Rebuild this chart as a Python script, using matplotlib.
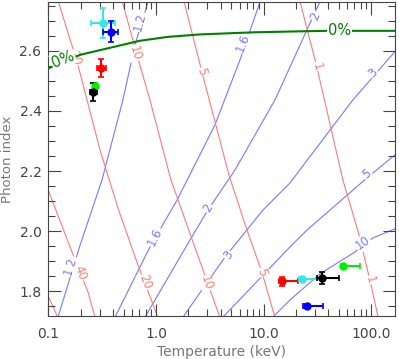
import numpy as np
import matplotlib
matplotlib.use("Agg")
import matplotlib.pyplot as plt

# contour lines (temperature in keV, photon index)
blue_12_T = [0.1228, 0.197, 0.315, 0.493, 0.638, 0.843]
blue_12_G = [1.713, 1.953, 2.17, 2.437, 2.62, 2.763]
blue_16_T = [0.416, 0.879, 1.57, 3.53, 6.04, 9.27]
blue_16_G = [1.713, 1.947, 2.103, 2.353, 2.57, 2.763]
blue_2_T = [0.790, 2.07, 3.04, 5.42, 12.8, 25.3, 33.4]
blue_2_G = [1.713, 1.97, 2.07, 2.203, 2.437, 2.67, 2.763]
blue_3_T = [1.78, 4.38, 9.88, 17.6, 67.8, 166]
blue_3_G = [1.713, 1.913, 2.07, 2.16, 2.437, 2.597]
blue_5_T = [4.19, 17.6, 25.3, 91.6, 166]
blue_5_G = [1.713, 1.947, 2.003, 2.177, 2.253]
blue_10_T = [12.2, 17.6, 33.4, 70.8, 104, 174]
blue_10_G = [1.713, 1.77, 1.857, 1.93, 1.977, 2.01]

red_80_T = [0.097, 0.1255]
red_80_G = [1.793, 1.703]
red_40_T = [0.097, 0.1013, 0.1657, 0.2333, 0.271]
red_40_G = [2.147, 2.13, 1.93, 1.797, 1.713]
red_20_T = [0.120, 0.1884, 0.302, 0.443, 0.680, 1.066]
red_20_G = [2.78, 2.553, 2.27, 2.077, 1.887, 1.703]
red_10_T = [0.473, 0.666, 0.879, 1.379, 2.676, 4.02]
red_10_G = [2.78, 2.587, 2.437, 2.17, 1.88, 1.703]
red_5_T = [1.78, 2.676, 4.77, 7.02, 9.67, 13.0]
red_5_G = [2.78, 2.53, 2.187, 2.003, 1.863, 1.703]
red_1_T = [21.3, 31.3, 54.7, 76.0, 97.6, 118]
red_1_G = [2.78, 2.547, 2.17, 1.997, 1.837, 1.703]

green_T = [0.095, 0.1, 0.197, 0.711, 1.3, 2.56, 8.0, 20.0, 38.8, 174]
green_G = [2.539, 2.542, 2.587, 2.634, 2.647, 2.655, 2.662, 2.665, 2.667, 2.667]

# contour labels: text, temperature, index, angle
blue_labels = ["1.2", "1.2", "1.6", "1.6", "2", "2", "3", "3", "5", "10"]
blue_label_T = [0.159, 0.71, 0.978, 6.44, 3.04, 30.0, 4.67, 104, 91.6, 84]
blue_label_G = [1.883, 2.697, 1.98, 2.627, 2.077, 2.717, 1.92, 2.527, 2.19, 1.96]
blue_label_rot = [73, 75, 63, 69, 60, 68, 55, 49, 40, 35]
red_labels = ["40", "20", "20", "10", "10", "5", "5", "1", "1"]
red_label_T = [0.197, 0.1767, 0.790, 0.638, 2.98, 2.66, 9.67, 31.2, 97.6]
red_label_G = [1.86, 2.577, 1.83, 2.593, 1.827, 2.53, 1.863, 2.548, 1.837]
red_label_rot = [-70, -71, -69, -74, -70, -73, -70, -76, -75]

# measured points
pt_colors = ["#33e8e8", "#0000ff", "#ff0000", "#00ee00", "#000000",
             "#ff0000", "#33e8e8", "#000000", "#00ee00", "#0000ff"]
pt_T = [0.320, 0.379, 0.306, 0.271, 0.261, 14.9, 22.9, 35.1, 55.1, 25.2]
pt_T_lo = [0.247, 0.324, 0.281, 0.262, 0.2435, 13.9, 21.3, 31.3, 52.0, 23.3]
pt_T_hi = [0.416, 0.447, 0.343, 0.282, 0.281, 20.9, 34.9, 50.1, 78.7, 35.9]
pt_G = [2.694, 2.664, 2.544, 2.483, 2.464, 1.833, 1.84, 1.842, 1.883, 1.751]
pt_G_err = [0.05, 0.035, 0.03, 0.01, 0.03, 0.015, 0.005, 0.02, 0.005, 0.005]

fig = plt.figure(figsize=(3.99, 3.59), dpi=100)
ax = fig.add_axes([0.1213, 0.1198, 0.8687, 0.8746])
ax.set_xscale("log")
ax.set_xlim(0.1, 167)
ax.set_ylim(1.717, 2.763)

blue_c = "#7878ff"
red_c = "#ff7a7a"
for T, G in [(blue_12_T, blue_12_G), (blue_16_T, blue_16_G), (blue_2_T, blue_2_G),
             (blue_3_T, blue_3_G), (blue_5_T, blue_5_G), (blue_10_T, blue_10_G)]:
    ax.plot(T, G, color=blue_c, lw=0.8, zorder=1)
for T, G in [(red_80_T, red_80_G), (red_40_T, red_40_G), (red_20_T, red_20_G),
             (red_10_T, red_10_G), (red_5_T, red_5_G), (red_1_T, red_1_G)]:
    ax.plot(T, G, color=red_c, lw=0.8, zorder=1)

box = dict(facecolor="white", edgecolor="none", pad=0.6)
for s, t, g, r in zip(blue_labels, blue_label_T, blue_label_G, blue_label_rot):
    ax.text(t, g, s, color=blue_c, fontsize=8.5, rotation=r, ha="center", va="center",
            rotation_mode="anchor", bbox=box, zorder=2)
for s, t, g, r in zip(red_labels, red_label_T, red_label_G, red_label_rot):
    ax.text(t, g, s, color=red_c, fontsize=8.5, rotation=r, ha="center", va="center",
            rotation_mode="anchor", bbox=box, zorder=2)

ax.plot(green_T, green_G, color="#008000", lw=1.5, zorder=3)
ax.text(0.1367, 2.573, "0%", color="#008000", fontsize=10.5, rotation=22,
        ha="center", va="center", rotation_mode="anchor", bbox=box, zorder=4)
ax.text(51.3, 2.667, "0%", color="#008000", fontsize=10.5, ha="center", va="center",
        bbox=box, zorder=4)

for c, t, lo, hi, g, ge in zip(pt_colors, pt_T, pt_T_lo, pt_T_hi, pt_G, pt_G_err):
    ax.errorbar([t], [g], xerr=[[t - lo], [hi - t]], yerr=[[ge], [ge]], fmt="o",
                color=c, ms=5, elinewidth=1.5, capsize=2, capthick=1.2, zorder=5)

ax.set_xticks([0.1, 1, 10, 100])
ax.set_xticklabels(["0.1", "1.0", "10.0", "100.0"])
ax.set_yticks([1.8, 2.0, 2.2, 2.4, 2.6])
ax.set_yticklabels(["1.8", "2.0", "2.2", "2.4", "2.6"])
ax.set_yticks(np.arange(1.75, 2.76, 0.05), minor=True)
ax.tick_params(which="both", direction="in", top=True, right=True, color="#444444",
               labelcolor="#444444", labelsize=10)
ax.tick_params(axis="x", pad=8)
ax.tick_params(axis="y", pad=5)
ax.tick_params(which="major", length=9, width=0.8)
ax.tick_params(which="minor", length=5, width=0.8)
for sp in ax.spines.values():
    sp.set_color("#444444")
ax.set_xlabel("Temperature (keV)", color="#777777", fontsize=10, labelpad=3)
ax.set_ylabel("Photon index", color="#777777", fontsize=9.5, labelpad=4)

fig.savefig("out.png", dpi=100)
